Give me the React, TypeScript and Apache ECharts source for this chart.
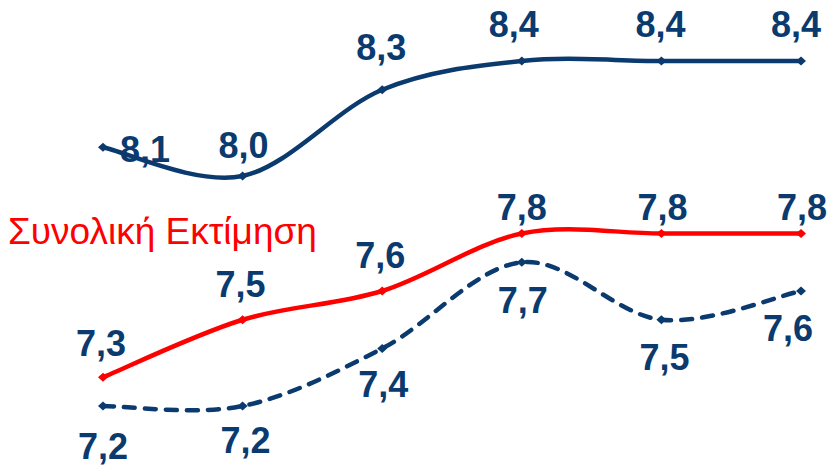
import React, { useEffect, useRef } from "react";
import * as echarts from "echarts";

const categories = ["1", "2", "3", "4", "5", "6"];
const topSeries = [8.1, 8.0, 8.3, 8.4, 8.4, 8.4];
const totalSeries = [7.3, 7.5, 7.6, 7.8, 7.8, 7.8];
const dashedSeries = [7.2, 7.2, 7.4, 7.7, 7.5, 7.6];
const totalLabel = "Συνολική Εκτίμηση";

// label offsets (styling only)
const topOffsets = [[42, 2], [1, -31], [-1, -42], [-8, -37], [-1, -37], [-5, -37]];
const totalOffsets = [[-2, -34], [-2, -35], [-2, -36], [0, -26], [1, -26], [1, -26]];
const dashedOffsets = [[0, 40], [3, 34], [1, 36], [1, 38], [3, 38], [-13, 37]];

const NAVY = "#0A3A6E";
const RED = "#FF0000";

const fmt = (v: number) => v.toFixed(1).replace(".", ",");

function build(values: number[], offsets: number[][]) {
  return values.map((v, i) => ({
    value: v,
    label: { offset: offsets[i] },
  }));
}

// Catmull-Rom style smoothing (like office charts)
function smoothPath(pts: number[][]) {
  let d = `M${pts[0][0]},${pts[0][1]}`;
  for (let i = 0; i < pts.length - 1; i++) {
    const p0 = pts[i - 1] || pts[i];
    const p1 = pts[i];
    const p2 = pts[i + 1];
    const p3 = pts[i + 2] || pts[i + 1];
    const c1x = p1[0] + (p2[0] - p0[0]) / 6;
    const c1y = p1[1] + (p2[1] - p0[1]) / 6;
    const c2x = p2[0] - (p3[0] - p1[0]) / 6;
    const c2y = p2[1] - (p3[1] - p1[1]) / 6;
    d += ` C${c1x},${c1y} ${c2x},${c2y} ${p2[0]},${p2[1]}`;
  }
  return d;
}

function curveSeries(values: number[], color: string, dash?: number[]) {
  return {
    type: "custom",
    data: [[0, values[0]]],
    silent: true,
    z: 2,
    renderItem: (_params: any, api: any) => {
      const pts = values.map((v, i) => api.coord([i, v]));
      return {
        type: "path",
        shape: { pathData: smoothPath(pts) },
        style: {
          fill: null,
          stroke: color,
          lineWidth: 4.5,
          lineDash: dash || null,
          lineCap: dash ? "round" : "butt",
        },
      };
    },
  };
}

export default function App() {
  const ref = useRef<HTMLDivElement>(null);
  useEffect(() => {
    if (!ref.current) return;
    const chart = echarts.init(ref.current, null, { renderer: "svg" });
    const labelBase = {
      show: true,
      position: "inside",
      color: NAVY,
      fontFamily: "Liberation Sans, Arial, sans-serif",
      fontWeight: "bold" as const,
      fontSize: 36,
      formatter: (p: any) => fmt(p.value),
    };
    const markerSeries = (values: number[], offsets: number[][], color: string) => ({
      type: "line",
      data: build(values, offsets),
      symbol: "diamond",
      symbolSize: [10, 9],
      itemStyle: { color },
      lineStyle: { opacity: 0 },
      label: labelBase,
      z: 3,
    });
    chart.setOption({
      animation: false,
      grid: { left: 103, right: 28, top: 3.5, bottom: 4.5 },
      xAxis: {
        type: "category",
        data: categories,
        boundaryGap: false,
        show: false,
      },
      yAxis: {
        type: "value",
        min: 7.0,
        max: 8.6,
        show: false,
        splitLine: { show: false },
      },
      graphic: [
        {
          type: "text",
          x: 8,
          y: 231,
          style: {
            text: totalLabel,
            fill: RED,
            fontFamily: "Liberation Sans, Arial, sans-serif",
            fontSize: 37,
            verticalAlign: "middle",
            align: "left",
          },
        },
      ],
      series: [
        curveSeries(topSeries, NAVY),
        curveSeries(totalSeries, RED),
        curveSeries(dashedSeries, NAVY, [11, 10]),
        markerSeries(topSeries, topOffsets, NAVY),
        markerSeries(totalSeries, totalOffsets, RED),
        markerSeries(dashedSeries, dashedOffsets, NAVY),
      ],
    });
    return () => chart.dispose();
  }, []);
  return (
    <div
      ref={ref}
      style={{ position: "fixed", left: 0, top: 0, width: 829, height: 468, background: "#fff" }}
    />
  );
}
